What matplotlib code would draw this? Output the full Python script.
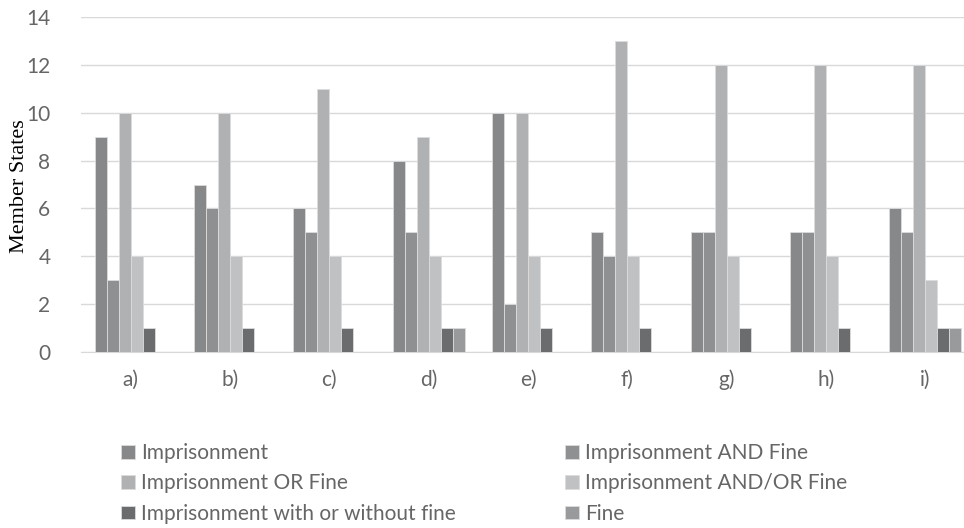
import matplotlib
matplotlib.use("Agg")
import matplotlib.pyplot as plt
import numpy as np

categories = ["a)", "b)", "c)", "d)", "e)", "f)", "g)", "h)", "i)"]
series_names = ["Imprisonment", "Imprisonment AND Fine", "Imprisonment OR Fine",
                "Imprisonment AND/OR Fine", "Imprisonment with or without fine", "Fine"]
imprisonment = [9, 7, 6, 8, 10, 5, 5, 5, 6]
imp_and_fine = [3, 6, 5, 5, 2, 4, 5, 5, 5]
imp_or_fine = [10, 10, 11, 9, 10, 13, 12, 12, 12]
imp_andor_fine = [4, 4, 4, 4, 4, 4, 4, 4, 3]
imp_with_without = [1, 1, 1, 1, 1, 1, 1, 1, 1]
fine = [0, 0, 0, 1, 0, 0, 0, 0, 1]
y_ticks = [0, 2, 4, 6, 8, 10, 12, 14]

values = [imprisonment, imp_and_fine, imp_or_fine, imp_andor_fine, imp_with_without, fine]
colors = ["#87888a", "#8f9092", "#b0b1b3", "#c0c1c3", "#6b6c6e", "#999a9c"]

fig = plt.figure(figsize=(9.64, 5.28), dpi=100)
ax = fig.add_axes([81/964, (528-351.7)/528, (975-81)/964, (351.7-17.3)/528])

x = np.arange(len(categories))
w = 0.121
handles = []
for k, (vals, col, name) in enumerate(zip(values, colors, series_names)):
    b = ax.bar(x + (k - 2.5) * w, vals, width=w, color=col, edgecolor="#dcdcdc",
               linewidth=0.6, label=name, zorder=3)
    handles.append(b)

ax.set_xlim(-0.5, len(categories) - 0.5)
ax.set_ylim(0, 14)
ax.set_yticks(y_ticks)
ax.set_xticks(x)
ax.set_xticklabels(categories)
ax.yaxis.grid(True, color="#d9d9d9", linewidth=1.0, zorder=0)
ax.set_axisbelow(True)
for s in ["top", "right", "left"]:
    ax.spines[s].set_visible(False)
ax.spines["bottom"].set_color("#d9d9d9")
ax.tick_params(axis="both", length=0, labelsize=15, colors="#666666")
for lab in ax.get_xticklabels() + ax.get_yticklabels():
    lab.set_family("Lato")
ax.tick_params(axis="x", pad=13)
ax.tick_params(axis="y", pad=22)
ax.set_ylabel("Member States", family="Liberation Serif", fontsize=16, color="#000000")
ax.yaxis.set_label_coords((29 - 81) / 894, 0.495)

legprops = {"family": "Lato", "size": 15}
common = dict(loc="upper left", frameon=False, prop=legprops,
              handlelength=0.65, handleheight=0.65, handletextpad=0.3,
              labelspacing=0.5, labelcolor="#666666", borderpad=0, borderaxespad=0)
fig.legend([handles[i] for i in [0, 2, 4]], [series_names[i] for i in [0, 2, 4]],
           bbox_to_anchor=(121/964, 1 - 443/528), **common)
fig.legend([handles[i] for i in [1, 3, 5]], [series_names[i] for i in [1, 3, 5]],
           bbox_to_anchor=(565/964, 1 - 443/528), **common)

fig.savefig("out.png", dpi=100)
